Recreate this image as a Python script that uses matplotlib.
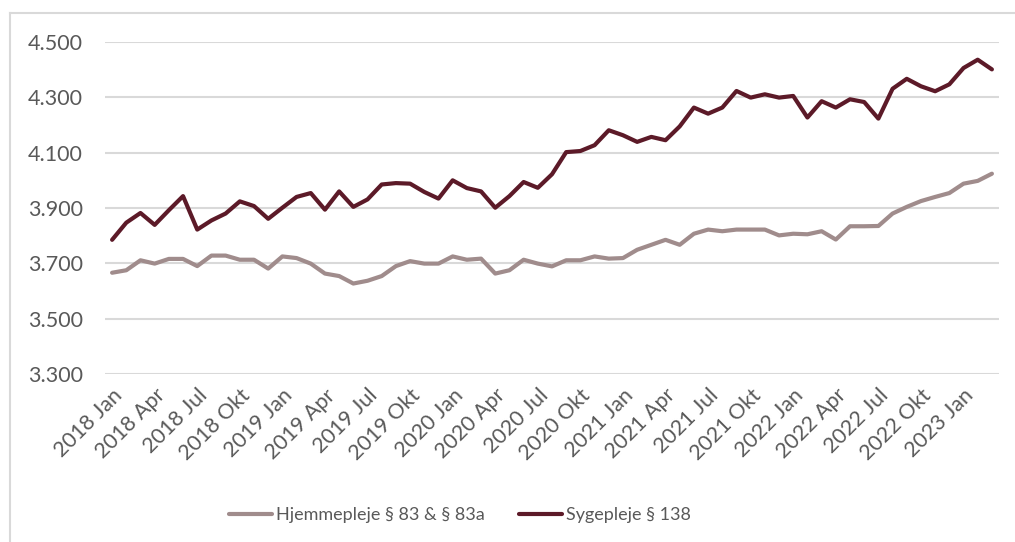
import matplotlib.pyplot as plt
from matplotlib.lines import Line2D

# Måneder 2018 Jan - 2023 Mar
years = [2018, 2019, 2020, 2021, 2022, 2023]
month_names = ['Jan', 'Feb', 'Mar', 'Apr', 'Maj', 'Jun',
               'Jul', 'Aug', 'Sep', 'Okt', 'Nov', 'Dec']
months = [f'{y} {m}' for y in years for m in month_names][:63]

hjemmepleje = [3666, 3675, 3711, 3699, 3716, 3716, 3690, 3728, 3728, 3713,
               3713, 3681, 3725, 3719, 3699, 3663, 3654, 3627, 3637, 3654,
               3690, 3708, 3699, 3699, 3725, 3713, 3717, 3663, 3675, 3713,
               3699, 3689, 3711, 3711, 3725, 3717, 3719, 3749, 3767, 3785,
               3767, 3807, 3822, 3816, 3822, 3822, 3822, 3801, 3807, 3805,
               3816, 3786, 3834, 3834, 3835, 3880, 3904, 3925, 3940, 3954,
               3988, 3998, 4024]

sygepleje = [3785, 3847, 3882, 3839, 3892, 3943, 3822, 3855, 3880, 3924,
             3907, 3861, 3901, 3940, 3954, 3894, 3960, 3904, 3931, 3985,
             3990, 3988, 3958, 3934, 4000, 3972, 3960, 3901, 3943, 3994,
             3973, 4022, 4102, 4106, 4127, 4181, 4163, 4139, 4157, 4145,
             4195, 4263, 4241, 4263, 4323, 4299, 4311, 4299, 4305, 4227,
             4286, 4263, 4293, 4283, 4223, 4331, 4367, 4340, 4322, 4347,
             4406, 4436, 4401]

yticks = [3300, 3500, 3700, 3900, 4100, 4300, 4500]

text_color = '#595959'
grid_color = '#d9d9d9'
grey = '#a08c8c'
red = '#5c1a28'

plt.rcParams['font.family'] = ['Lato', 'DejaVu Sans']

W, H = 1015, 542
fig = plt.figure(figsize=(W / 100, H / 100), dpi=100)
ax = fig.add_axes([105 / W, 1 - 374 / H, (999 - 105) / W, (374 - 42) / H])

x = list(range(len(months)))
ax.plot(x, hjemmepleje, color=grey, lw=3, solid_capstyle='round',
        solid_joinstyle='round', label='Hjemmepleje § 83 & § 83a')
ax.plot(x, sygepleje, color=red, lw=3, solid_capstyle='round',
        solid_joinstyle='round', label='Sygepleje § 138')

ax.set_xlim(-0.5, len(months) - 0.5)
ax.set_ylim(3300, 4500)
ax.set_yticks(yticks)
ax.set_yticklabels([f'{v:,}'.replace(',', '.') for v in yticks])
ax.yaxis.grid(True, color=grid_color, lw=1.5)
ax.set_axisbelow(True)

tick_pos = x[::3]
ax.set_xticks(tick_pos)
ax.set_xticklabels([months[i] for i in tick_pos], rotation=45,
                   ha='right', rotation_mode='anchor')

for s in ax.spines.values():
    s.set_visible(False)
ax.tick_params(axis='both', length=0, colors=text_color, labelsize=15.5)
ax.tick_params(axis='y', pad=16)
ax.tick_params(axis='x', pad=8)

leg = fig.legend(loc='center', bbox_to_anchor=(460 / W, 1 - 515 / H), ncol=2,
                 frameon=False, fontsize=13, handlelength=2.4,
                 handletextpad=0.2, columnspacing=1.9)
for t in leg.get_texts():
    t.set_color(text_color)

# Ramme (venstre og top)
fig.add_artist(Line2D([10 / W, 10 / W], [0, 1 - 13 / H], color=grid_color,
                      lw=1.5, transform=fig.transFigure))
fig.add_artist(Line2D([10 / W, 1], [1 - 13 / H, 1 - 13 / H], color=grid_color,
                      lw=1.5, transform=fig.transFigure))

fig.savefig('out.png', dpi=100)
